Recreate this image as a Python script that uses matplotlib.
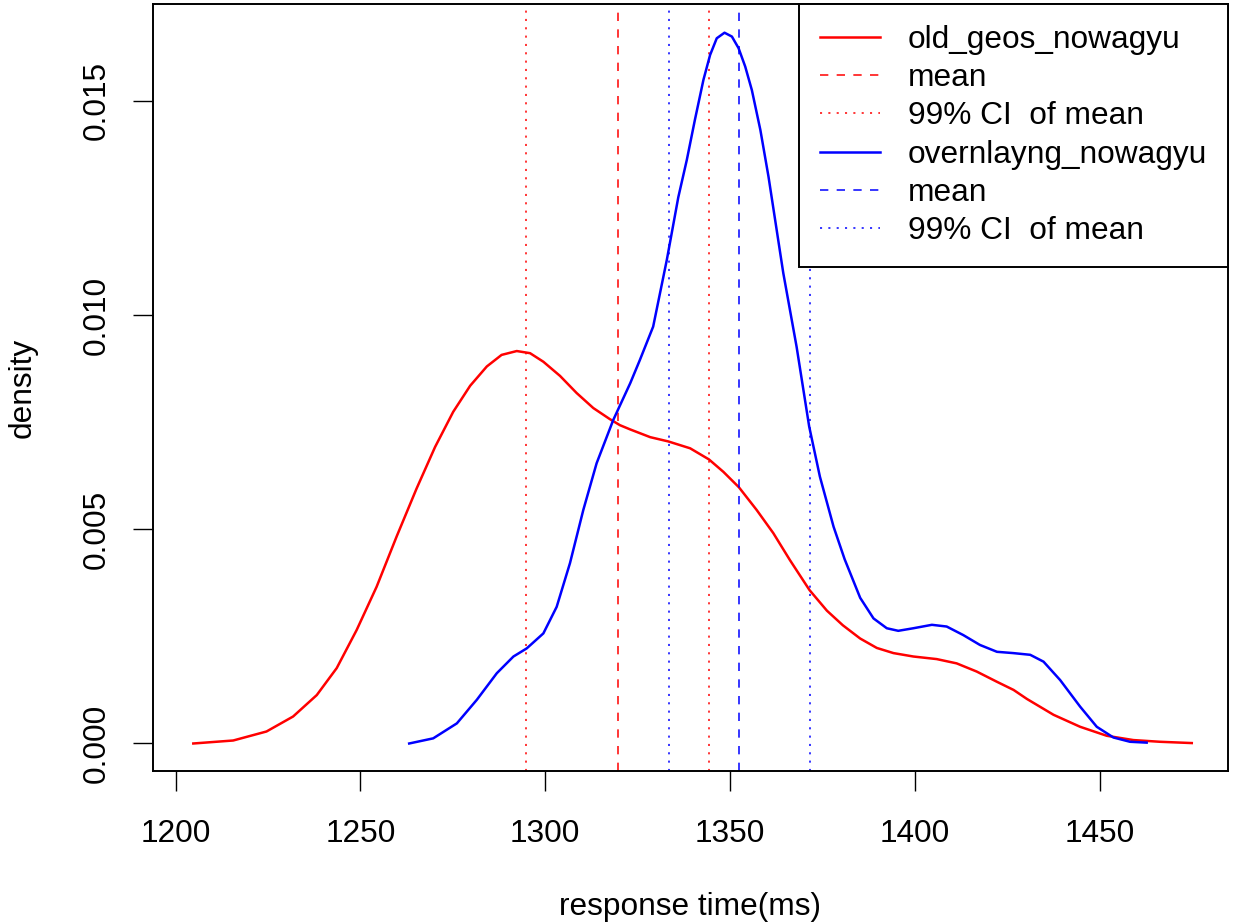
import matplotlib
matplotlib.use("Agg")
import matplotlib.pyplot as plt

# density curves (response time in ms, density)
old_geos_x = [1204.8, 1215.6, 1224.6, 1231.8, 1238.2, 1243.6, 1249.0, 1254.4, 1259.8,
              1265.2, 1270.2, 1275.1, 1279.7, 1284.2, 1288.2, 1292.3, 1295.9, 1299.5,
              1304.0, 1308.5, 1313.0, 1317.5, 1320.2, 1323.0, 1328.4, 1333.3, 1339.2,
              1344.3, 1348.2, 1352.4, 1357.2, 1361.7, 1366.2, 1371.5, 1376.2, 1380.5,
              1385.2, 1389.7, 1394.2, 1399.6, 1405.9, 1411.3, 1416.7, 1422.2, 1426.7,
              1430.3, 1437.5, 1444.7, 1451.9, 1459.1, 1466.3, 1474.9]
old_geos_y = [0.00000, 0.00007, 0.00028, 0.00063, 0.00113, 0.00176, 0.00265, 0.00366,
              0.00483, 0.00595, 0.00692, 0.00774, 0.00835, 0.00880, 0.00907, 0.00916,
              0.00911, 0.00891, 0.00858, 0.00818, 0.00783, 0.00757, 0.00743, 0.00733,
              0.00715, 0.00705, 0.00689, 0.00663, 0.00634, 0.00598, 0.00545, 0.00491,
              0.00428, 0.00358, 0.00310, 0.00276, 0.00245, 0.00223, 0.00211, 0.00203,
              0.00197, 0.00187, 0.00168, 0.00144, 0.00125, 0.00104, 0.00067, 0.00039,
              0.00018, 0.00008, 0.00004, 0.00001]

overlay_x = [1263.2, 1269.7, 1276.1, 1281.5, 1286.9, 1291.4, 1295.0, 1299.5, 1303.1,
             1306.7, 1310.3, 1313.9, 1318.4, 1323.0, 1325.6, 1329.2, 1332.9, 1336.0,
             1338.3, 1340.5, 1342.8, 1344.6, 1346.4, 1348.5, 1350.5, 1352.3, 1354.1,
             1355.9, 1358.2, 1360.4, 1364.4, 1368.0, 1371.4, 1374.3, 1378.0, 1381.0,
             1385.2, 1388.8, 1392.4, 1395.5, 1399.6, 1404.6, 1408.6, 1413.1, 1417.6,
             1422.2, 1426.6, 1431.2, 1434.8, 1439.3, 1444.7, 1449.2, 1453.7, 1458.2,
             1462.7]
overlay_y = [0.00000, 0.00012, 0.00047, 0.00102, 0.00164, 0.00203, 0.00222, 0.00257,
             0.00319, 0.00421, 0.00545, 0.00654, 0.00755, 0.00841, 0.00895, 0.00973,
             0.01129, 0.01275, 0.01362, 0.01456, 0.01549, 0.01607, 0.01646, 0.01659,
             0.01650, 0.01623, 0.01580, 0.01525, 0.01432, 0.01323, 0.01098, 0.00926,
             0.00740, 0.00623, 0.00506, 0.00430, 0.00340, 0.00292, 0.00269, 0.00263,
             0.00269, 0.00277, 0.00273, 0.00253, 0.00230, 0.00214, 0.00211, 0.00207,
             0.00191, 0.00148, 0.00086, 0.00039, 0.00014, 0.00004, 0.00002]

# mean and 99% CI of the mean
old_geos_mean = 1319.6
old_geos_ci = [1294.9, 1344.3]
overlay_mean = 1352.4
overlay_ci = [1333.4, 1371.5]

series_names = ["old_geos_nowagyu", "overnlayng_nowagyu"]
x_ticks = [1200, 1250, 1300, 1350, 1400, 1450]
y_ticks = [0.000, 0.005, 0.010, 0.015]
y_tick_labels = ["0.000", "0.005", "0.010", "0.015"]

plt.rcParams["font.family"] = ["Liberation Sans", "DejaVu Sans"]
plt.rcParams["lines.scale_dashes"] = False

FS = 22.8
DASHED = (0, (6.0, 6.0))
DOTTED = (0, (1.5, 4.5))

fig = plt.figure(figsize=(12.34, 9.24), dpi=100)
ax = fig.add_axes([153 / 1234, 1 - 771 / 924, 1075 / 1234, 767 / 924])


def draw_group(x, y, mean, ci, color, name):
    ax.plot(x, y, color=color, lw=1.8, label=name, solid_joinstyle="round")
    ax.axvline(mean, color=color, lw=1.1, linestyle=DASHED, label="mean")
    for i, c in enumerate(ci):
        ax.axvline(c, color=color, lw=1.1, linestyle=DOTTED,
                   label="99% CI  of mean" if i == 0 else None)


draw_group(old_geos_x, old_geos_y, old_geos_mean, old_geos_ci, "#ff0000", series_names[0])
draw_group(overlay_x, overlay_y, overlay_mean, overlay_ci, "#0000ff", series_names[1])

ax.set_xlim(1193.9, 1484.7)
ax.set_ylim(-0.000642, 0.01726)
ax.set_xticks(x_ticks)
ax.set_xticklabels([str(t) for t in x_ticks])
ax.set_yticks(y_ticks)
ax.set_yticklabels(y_tick_labels, rotation=90, va="center")
ax.tick_params(axis="both", direction="out", length=14.4, width=1.0, labelsize=FS)
ax.tick_params(axis="x", pad=20)
ax.tick_params(axis="y", pad=15)
for s in ax.spines.values():
    s.set_linewidth(1.4)

# legend box sits flush in the top right corner, like R's legend("topright")
leg = ax.legend(loc="upper right", borderaxespad=0, fontsize=FS, fancybox=False,
                framealpha=1, edgecolor="black", handlelength=1.89,
                handletextpad=0.88, borderpad=0.66, labelspacing=0.26)
leg.get_frame().set_linewidth(1.4)

fig.text(690.5 / 1234, 1 - 907 / 924, "response time(ms)", fontsize=FS,
         ha="center", va="center")
fig.text(23 / 1234, 1 - 387.5 / 924, "density", fontsize=FS, rotation=90,
         ha="center", va="center")

fig.savefig("out.png", dpi=100)
